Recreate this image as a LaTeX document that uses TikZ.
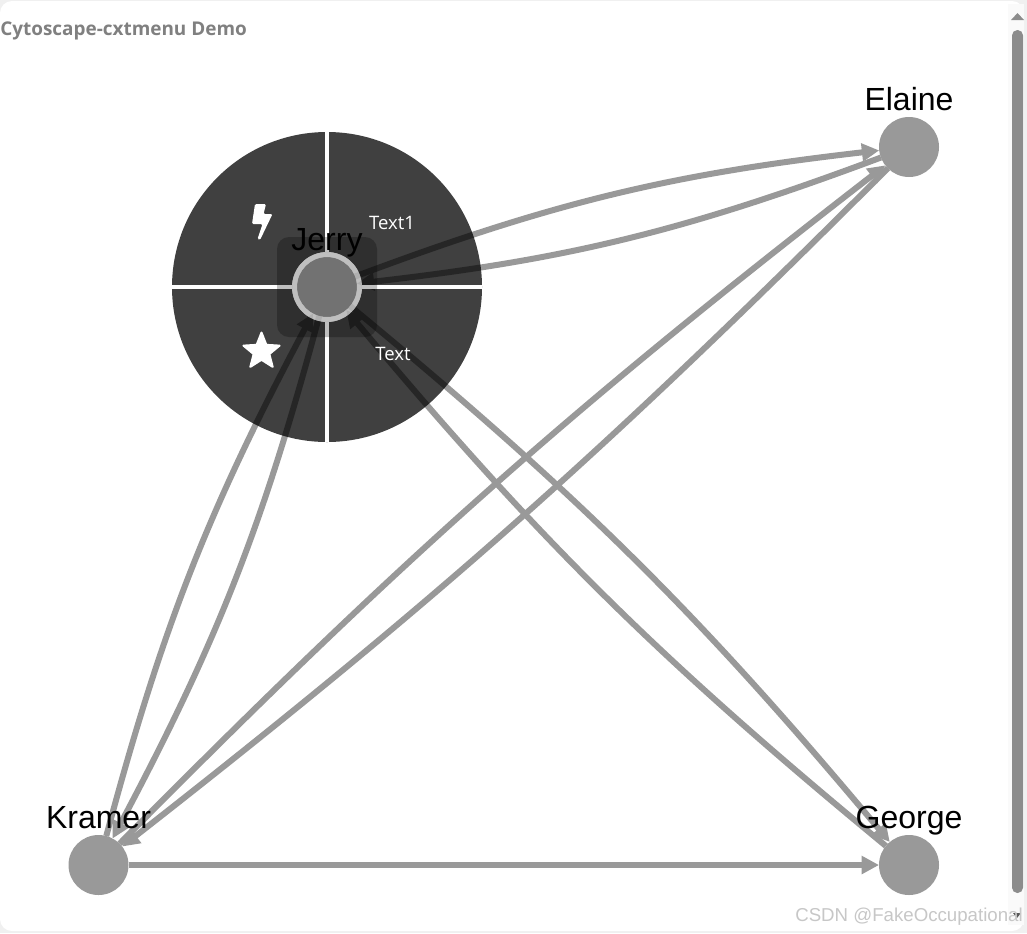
\documentclass[tikz,border=0pt]{standalone}
\usepackage{fontspec}
\setmainfont{Liberation Sans}
\newfontfamily\menufont{Open Sans}
\usetikzlibrary{arrows.meta,shapes.geometric}
\definecolor{edgegrey}{HTML}{999999}
\definecolor{titlegrey}{HTML}{808080}
\definecolor{barcol}{HTML}{8C8C8C}
\tikzset{
  x=0.75pt,y=-0.75pt,
  graphnode/.style={circle,fill=edgegrey,minimum size=45pt,inner sep=0pt,outer sep=0pt},
  namelabel/.style={font=\fontsize{24pt}{24pt}\selectfont,text=black,inner sep=0pt,anchor=base},
  link/.style={draw=edgegrey,line width=4.5pt,-{Triangle[length=13pt,width=13pt]}},
  menutext/.style={font=\menufont\fontsize{13.9pt}{14pt}\selectfont,text=white,inner sep=0pt},
}
\begin{document}
\begin{tikzpicture}
\useasboundingbox (0,0) rectangle (1027,933);
\fill[black!6] (0,0) rectangle (1027,933);
\fill[white,rounded corners=9pt] (0,1) rectangle (1024,931);
\fill[black!2] (1008,4) rectangle (1024,925);
\node[font=\menufont\bfseries\fontsize{14.2pt}{15pt}\selectfont,text=titlegrey,anchor=west,inner sep=0pt] (title) at (0,31) {Cytoscape-cxtmenu Demo};
\fill[barcol,rounded corners=4pt] (1012,30) rectangle (1023,893);
\fill[barcol] (1011,20) -- (1017.5,13) -- (1024,20) -- cycle;
\fill[black!65] (1013,913) -- (1021,913) -- (1017,918) -- cycle;

\node[graphnode] (jerry) at (327,287) {};
\node[graphnode] (elaine) at (909,147) {};
\node[graphnode] (george) at (909,865) {};
\node[graphnode] (kramer) at (98.5,865) {};

\draw[link] (jerry) to[bend left=7] (elaine);
\draw[link] (elaine) to[bend left=7] (jerry);
\draw[link] (jerry) to[bend left=5.3] (george);
\draw[link] (george) to[bend left=5.3] (jerry);
\draw[link] (kramer) to[out=75,in=242] (jerry);
\draw[link] (jerry) to[out=255,in=62] (kramer);
\draw[link] (kramer) to[bend left=3.8] (elaine);
\draw[link] (elaine) to[bend left=3.5] (kramer);
\draw[link] (kramer) -- (george);

% menu disc
\fill[black,opacity=.75,even odd rule] (327,287) circle[radius=116.25pt] (327,287) circle[radius=26.25pt];
\fill[white,opacity=.8,even odd rule] (327,287) circle[radius=26.25pt] (327,287) circle[radius=22.5pt];
\fill[white] (325,132) rectangle (329,252);
\fill[white] (325,322) rectangle (329,442);
\fill[white] (172,285) rectangle (292,289);
\fill[white] (362,285) rectangle (482,289);
\node[menutext] (tone) at (392,223) {Text1};
\node[menutext] (ttwo) at (393,354) {Text};
\fill[white,rounded corners=1pt] (255,204) -- (266,204) -- (263.5,214) -- (272.5,214) -- (260,240) -- (257.5,239) -- (262.5,224) -- (252,224) -- cycle;
\node[star,star points=5,star point ratio=2.3,fill=white,draw=white,line width=1.5pt,line join=round,minimum size=28.5pt,inner sep=0pt] (staricon) at (261.5,351.5) {};
\fill[black,opacity=.25,rounded corners=9pt] (277,237) rectangle (377,337);

\node[namelabel] (ljerry) at (327,250) {Jerry};
\node[namelabel] (lelaine) at (909,110) {Elaine};
\node[namelabel] (lgeorge) at (909,828) {George};
\node[namelabel] (lkramer) at (98.5,828) {Kramer};
\node[font=\fontsize{14pt}{15pt}\selectfont,text=black!22,anchor=west,inner sep=0pt] (mark) at (795,917) {CSDN @FakeOccupational};
\end{tikzpicture}
\end{document}
